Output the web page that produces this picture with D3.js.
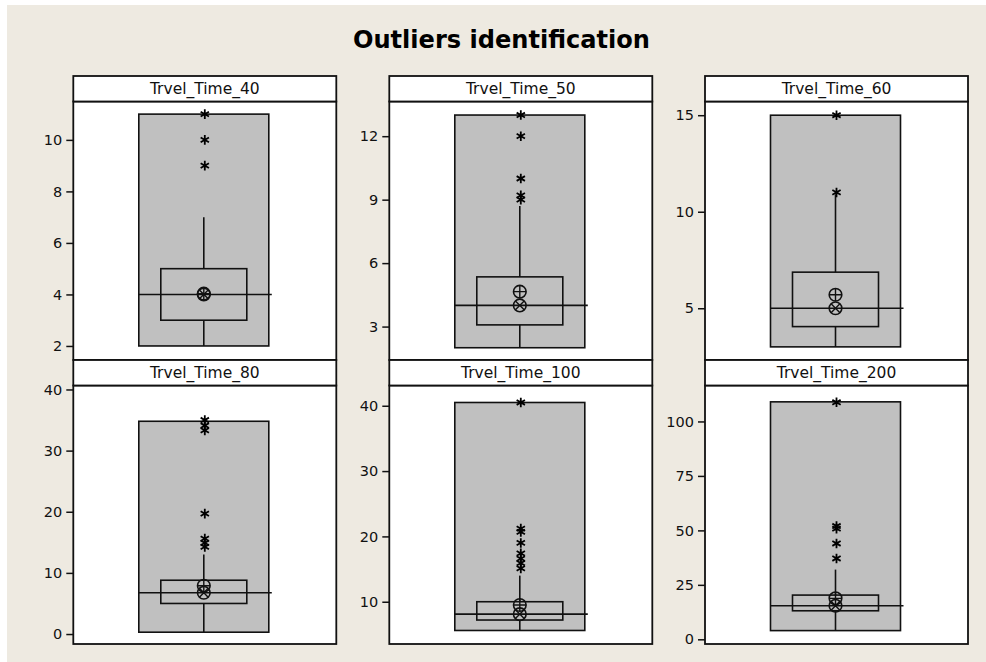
<!DOCTYPE html>
<html>
<head>
<meta charset="utf-8">
<script src="https://cdn.jsdelivr.net/npm/d3@7"></script>
<style>
  body { margin: 0; background: #fff; }
  svg { display: block; }
  .tick text { font-family: "DejaVu Sans", Verdana, sans-serif; font-size: 14.5px; fill: #111; }
  .strip-label { font-family: "DejaVu Sans", Verdana, sans-serif; font-size: 15.5px; fill: #111; }
</style>
</head>
<body>
<script>
// values
const panelNames = ['Trvel_Time_40', 'Trvel_Time_50', 'Trvel_Time_60',
                    'Trvel_Time_80', 'Trvel_Time_100', 'Trvel_Time_200'];
const minVals    = [2, 2, 3, 0.3, 5.6, 4];
const q1Vals     = [3, 3.08, 4.05, 5, 7.2, 13.1];
const medianVals = [4, 4, 5, 6.75, 8.1, 15.4];
const meanVals   = [4.03, 4.65, 5.7, 7.9, 9.5, 18.8];
const q3Vals     = [5, 5.35, 6.87, 8.8, 10, 20.3];
const whiskerTop = [7, 8.7, 10.9, 13, 14, 32];
const maxVals    = [11, 13, 15, 34.8, 40.5, 109];
const outliers = [
  [9, 10, 11],
  [9, 9.2, 10, 12, 13],
  [11, 15],
  [14.25, 14.9, 15.6, 19.7, 33.3, 34.1, 35],
  [15.1, 15.9, 16.6, 17.4, 19, 20.7, 21.2, 40.5],
  [37.1, 44, 50.8, 52, 108.8]
];
const yTicks = [
  [2, 4, 6, 8, 10],
  [3, 6, 9, 12],
  [5, 10, 15],
  [0, 10, 20, 30, 40],
  [10, 20, 30, 40],
  [0, 25, 50, 75, 100]
];
const yDomains = [
  [1.455, 11.49],
  [1.42, 13.64],
  [2.32, 15.71],
  [-1.63, 40.65],
  [3.53, 43.1],
  [-2.15, 116.5]
];

const W = 986, H = 662;
const colX = [73.3, 389.3, 705];   // left edge of each panel frame
const rowY = [76, 360];            // top of each strip
const panelW = 263;
const stripH = 25.5;
const plotH = [258.5, 258.5];

const svg = d3.select('body').append('svg')
  .attr('width', W)
  .attr('height', H);

svg.append('rect')
  .attr('x', 7).attr('y', 5)
  .attr('width', W - 7).attr('height', H - 5)
  .attr('fill', '#EEEAE1');

svg.append('text')
  .attr('x', 501.5)
  .attr('y', 48)
  .attr('text-anchor', 'middle')
  .attr('font-family', '"DejaVu Sans", Verdana, sans-serif')
  .attr('font-weight', 'bold')
  .attr('font-size', 25)
  .attr('textLength', 297)
  .attr('lengthAdjust', 'spacingAndGlyphs')
  .attr('fill', '#000')
  .text('Outliers identification');

// six-armed star used for outliers
function starPath(r) {
  let p = '';
  [90, 30, 150].forEach(function(a) {
    const rad = a * Math.PI / 180;
    const dx = r * Math.cos(rad), dy = r * Math.sin(rad);
    p += 'M' + (-dx) + ',' + (-dy) + 'L' + dx + ',' + dy;
  });
  return p;
}

panelNames.forEach(function(name, i) {
  const col = i % 3, row = Math.floor(i / 3);
  const x0 = colX[col], top = rowY[row];
  const plotTop = top + stripH;
  const h = plotH[row];

  const g = svg.append('g')
    .attr('transform', 'translate(' + x0 + ',' + plotTop + ')');

  const x = d3.scalePoint()
    .domain([name])
    .range([0, panelW])
    .padding(0.5);

  const y = d3.scaleLinear()
    .domain(yDomains[i])
    .range([h, 0]);

  const cx = x(name) - 1;

  // plot background
  g.append('rect')
    .attr('x', 0).attr('y', 0)
    .attr('width', panelW).attr('height', h)
    .attr('fill', '#fff');

  // range rectangle
  g.append('rect')
    .attr('x', cx - 65).attr('width', 130)
    .attr('y', y(maxVals[i]))
    .attr('height', y(minVals[i]) - y(maxVals[i]))
    .attr('fill', '#C0C0C0')
    .attr('stroke', '#111')
    .attr('stroke-width', 1.6);

  // whiskers
  g.append('line')
    .attr('x1', cx).attr('x2', cx)
    .attr('y1', y(q3Vals[i])).attr('y2', y(whiskerTop[i]))
    .attr('stroke', '#111').attr('stroke-width', 1.6);
  g.append('line')
    .attr('x1', cx).attr('x2', cx)
    .attr('y1', y(q1Vals[i])).attr('y2', y(minVals[i]))
    .attr('stroke', '#111').attr('stroke-width', 1.6);

  // IQR box
  g.append('rect')
    .attr('x', cx - 43).attr('width', 86)
    .attr('y', y(q3Vals[i]))
    .attr('height', y(q1Vals[i]) - y(q3Vals[i]))
    .attr('fill', 'none')
    .attr('stroke', '#111')
    .attr('stroke-width', 1.6);

  // median line
  g.append('line')
    .attr('x1', cx - 65).attr('x2', cx + 68)
    .attr('y1', y(medianVals[i])).attr('y2', y(medianVals[i]))
    .attr('stroke', '#111').attr('stroke-width', 1.6);

  // outlier stars
  g.selectAll('.star')
    .data(outliers[i])
    .enter()
      .append('path')
      .attr('class', 'star')
      .attr('transform', function(d) { return 'translate(' + (cx + 1) + ',' + y(d) + ')'; })
      .attr('d', starPath(4.8))
      .attr('stroke', '#000')
      .attr('stroke-width', 1.8);

  // mean: circle with plus
  const my = y(meanVals[i]);
  const mg = g.append('g').attr('transform', 'translate(' + cx + ',' + my + ')');
  mg.append('circle').attr('r', 6.3).attr('fill', 'none').attr('stroke', '#111').attr('stroke-width', 1.6);
  mg.append('path').attr('d', 'M-6.3,0L6.3,0M0,-6.3L0,6.3').attr('stroke', '#111').attr('stroke-width', 1.4);

  // median: circle with cross
  const dy = y(medianVals[i]);
  const dg = g.append('g').attr('transform', 'translate(' + cx + ',' + dy + ')');
  dg.append('circle').attr('r', 6.3).attr('fill', 'none').attr('stroke', '#111').attr('stroke-width', 1.6);
  dg.append('path').attr('d', 'M-4.4,-4.4L4.4,4.4M-4.4,4.4L4.4,-4.4').attr('stroke', '#111').attr('stroke-width', 1.4);

  // frame
  g.append('rect')
    .attr('x', 0).attr('y', 0)
    .attr('width', panelW).attr('height', h)
    .attr('fill', 'none')
    .attr('stroke', '#111')
    .attr('stroke-width', 1.8);

  // y axis
  const axis = g.append('g')
    .call(d3.axisLeft(y).tickValues(yTicks[i]).tickSize(7).tickPadding(4));
  axis.select('.domain').remove();
  axis.selectAll('.tick line').attr('stroke', '#111').attr('stroke-width', 1.5);

  // strip header
  svg.append('rect')
    .attr('x', x0).attr('y', top)
    .attr('width', panelW).attr('height', stripH)
    .attr('fill', '#fff')
    .attr('stroke', '#111')
    .attr('stroke-width', 1.8);
  svg.append('text')
    .attr('class', 'strip-label')
    .attr('x', x0 + panelW / 2)
    .attr('y', top + stripH / 2 + 5.5)
    .attr('text-anchor', 'middle')
    .text(name);
});
</script>
</body>
</html>
